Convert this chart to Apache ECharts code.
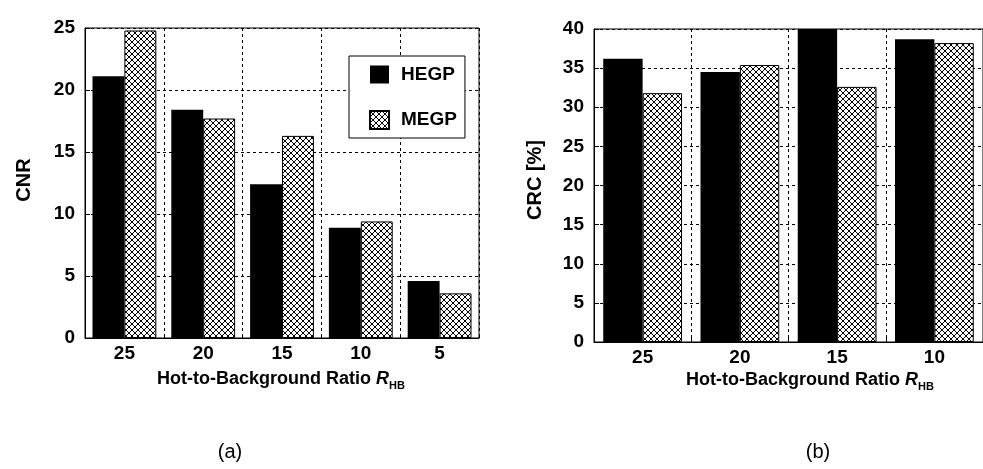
<!DOCTYPE html>
<html>
<head>
<meta charset="utf-8">
<script src="https://cdn.jsdelivr.net/npm/echarts@6/dist/echarts.min.js"></script>
<style>
  html, body { margin: 0; padding: 0; background: #fff; }
  #main { width: 983px; height: 469px; }
</style>
</head>
<body>
<div id="main"></div>
<script>
// data
const ratioA = ['25', '20', '15', '10', '5']
const cnrHEGP = [21.1, 18.4, 12.4, 8.9, 4.6]
const cnrMEGP = [24.8, 17.7, 16.3, 9.4, 3.6]
const ratioB = ['25', '20', '15', '10']
const crcHEGP = [36.2, 34.5, 40, 38.7]
const crcMEGP = [31.8, 35.4, 32.6, 38.2]

const FONT = 'Liberation Sans, Arial, sans-serif'

// cross hatch for MEGP
function makeHatch() {
  const c = document.createElement('canvas')
  c.width = 6
  c.height = 6
  const ctx = c.getContext('2d')
  ctx.fillStyle = '#fff'
  ctx.fillRect(0, 0, 6, 6)
  ctx.strokeStyle = '#000'
  ctx.lineWidth = 1
  ctx.beginPath()
  ctx.moveTo(0, 0); ctx.lineTo(6, 6)
  ctx.moveTo(0, 6); ctx.lineTo(6, 0)
  ctx.stroke()
  return c
}
const hatch = { image: makeHatch(), repeat: 'repeat' }

function catAxis(idx, data) {
  return {
    type: 'category',
    gridIndex: idx,
    data: data,
    axisLine: { lineStyle: { color: '#000', width: 1 } },
    axisTick: { show: true, inside: true, length: 4, lineStyle: { color: '#000' } },
    axisLabel: { color: '#000', fontSize: 19, fontWeight: 'bold', fontFamily: FONT, margin: 6 },
    splitLine: { show: true, lineStyle: { color: '#000', type: [3, 3], width: 1 } }
  }
}

function valAxis(idx, max) {
  return {
    type: 'value',
    gridIndex: idx,
    min: 0,
    max: max,
    interval: 5,
    axisLine: { show: true, lineStyle: { color: '#000', width: 1 } },
    axisTick: { show: true, inside: true, length: 5, lineStyle: { color: '#000' } },
    axisLabel: { color: '#000', fontSize: 19, fontWeight: 'bold', fontFamily: FONT, margin: 10 },
    splitLine: { show: true, lineStyle: { color: '#000', type: [3, 3], width: 1 } }
  }
}

function xTitle(x, y) {
  return {
    type: 'text',
    x: x,
    y: y,
    style: {
      text: 'Hot-to-Background Ratio {i|R}{s|HB}',
      font: 'bold 18px ' + FONT,
      fill: '#000',
      align: 'center',
      verticalAlign: 'middle',
      rich: {
        i: { fontSize: 18, fontWeight: 'bold', fontStyle: 'italic', fontFamily: FONT, lineHeight: 24, verticalAlign: 'middle' },
        s: { fontSize: 11, fontWeight: 'bold', fontFamily: FONT, lineHeight: 24, verticalAlign: 'bottom' }
      }
    }
  }
}

let chart = echarts.init(document.getElementById('main'))
let option = {
  animation: false,
  backgroundColor: '#fff',
  grid: [
    { left: 85, top: 28, width: 394, height: 310, show: true, borderColor: '#000', borderWidth: 1 },
    { left: 594, top: 29, width: 396, height: 313, show: true, borderColor: '#000', borderWidth: 1 }
  ],
  xAxis: [catAxis(0, ratioA), catAxis(1, ratioB)],
  yAxis: [valAxis(0, 25), valAxis(1, 40)],
  legend: {
    left: 349,
    top: 56,
    orient: 'vertical',
    itemWidth: 19,
    itemHeight: 18,
    itemGap: 26,
    padding: [9, 8, 8, 20],
    backgroundColor: '#fff',
    borderColor: '#000',
    borderWidth: 1,
    borderRadius: 0,
    z: 10,
    data: [
      { name: 'HEGP', icon: 'rect' },
      { name: 'MEGP', icon: 'rect' }
    ],
    textStyle: { color: '#000', fontSize: 19, fontWeight: 'bold', fontFamily: FONT, padding: [0, 0, 0, 7] }
  },
  series: [
    {
      name: 'HEGP', type: 'bar', xAxisIndex: 0, yAxisIndex: 0, data: cnrHEGP,
      barGap: '0%', barCategoryGap: '19%',
      itemStyle: { color: '#000' }
    },
    {
      name: 'MEGP', type: 'bar', xAxisIndex: 0, yAxisIndex: 0, data: cnrMEGP,
      barGap: '0%', barCategoryGap: '19%',
      itemStyle: { color: hatch, borderColor: '#000', borderWidth: 1 }
    },
    {
      name: 'HEGP', type: 'bar', xAxisIndex: 1, yAxisIndex: 1, data: crcHEGP,
      barGap: '0%', barCategoryGap: '19%',
      itemStyle: { color: '#000' }
    },
    {
      name: 'MEGP', type: 'bar', xAxisIndex: 1, yAxisIndex: 1, data: crcMEGP,
      barGap: '0%', barCategoryGap: '19%',
      itemStyle: { color: hatch, borderColor: '#000', borderWidth: 1 }
    }
  ],
  graphic: [
    {
      type: 'text', x: 24, y: 180, rotation: Math.PI / 2,
      style: { text: 'CNR', font: 'bold 20px ' + FONT, fill: '#000', align: 'center', verticalAlign: 'middle' }
    },
    {
      type: 'text', x: 535, y: 180, rotation: Math.PI / 2,
      style: { text: 'CRC [%]', font: 'bold 20px ' + FONT, fill: '#000', align: 'center', verticalAlign: 'middle' }
    },
    xTitle(281, 379),
    xTitle(810, 380),
    {
      type: 'text', x: 230, y: 452,
      style: { text: '(a)', font: '20px ' + FONT, fill: '#000', align: 'center', verticalAlign: 'middle' }
    },
    {
      type: 'text', x: 818, y: 452,
      style: { text: '(b)', font: '20px ' + FONT, fill: '#000', align: 'center', verticalAlign: 'middle' }
    }
  ]
}
chart.setOption(option)
</script>
</body>
</html>
